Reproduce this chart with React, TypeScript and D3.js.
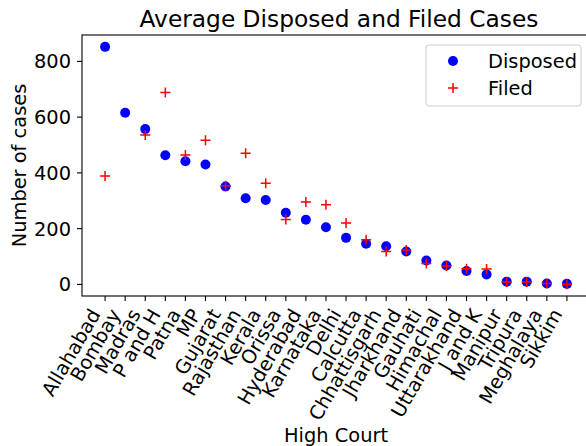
import * as d3 from "d3";

const courts = [
  "Allahabad", "Bombay", "Madras", "P and H", "Patna", "MP", "Gujarat", "Rajasthan",
  "Kerala", "Orissa", "Hyderabad", "Karnataka", "Delhi", "Calcutta", "Chhattisgarh",
  "Jharkhand", "Gauhati", "Himachal", "Uttarakhand", "J and K", "Manipur", "Tripura",
  "Meghalaya", "Sikkim",
];
const disposed = [
  852, 616, 557, 463, 442, 430, 351, 309, 303, 257, 232, 205, 167, 146, 137, 118,
  86, 68, 48, 36, 10, 10, 3, 2,
];
// Bombay's filed value is hidden under its dot in the reference, so null there
const filed: (number | null)[] = [
  389, null, 536, 688, 464, 517, 354, 470, 363, 233, 296, 286, 220, 160, 118, 123,
  75, 66, 56, 55, 9, 9, 3, 1,
];
const yTicks = [0, 200, 400, 600, 800];

const W = 586;
const H = 446;
const left = 82;
const right = 590;
const top = 35;
const bottom = 296;
const font = "DejaVu Sans";
const fs = 19.4;

export default function App() {
  const n = courts.length;
  const xPad = (n - 1) * 0.05;
  const x = d3.scaleLinear().domain([-xPad, n - 1 + xPad]).range([left, right]);

  const all = [...disposed, ...(filed.filter((v) => v != null) as number[])];
  const lo = d3.min(all)!;
  const hi = d3.max(all)!;
  const yPad = (hi - lo) * 0.05;
  const y = d3.scaleLinear().domain([lo - yPad, hi + yPad]).range([bottom, top]);

  const plus = 5;

  return (
    <svg
      width={W}
      height={H}
      style={{ position: "absolute", left: 0, top: 0, background: "white" }}
      fontFamily={font}
    >
      <defs>
        <clipPath id="plot">
          <rect x={left} y={top} width={right - left} height={bottom - top} />
        </clipPath>
      </defs>

      {/* title */}
      <text x={(left + right) / 2 + 3} y={27} textAnchor="middle" fontSize={23.3} fill="#000">
        Average Disposed and Filed Cases
      </text>

      {/* markers */}
      <g clipPath="url(#plot)">
        {disposed.map((v, i) => (
          <circle key={"d" + i} cx={x(i)} cy={y(v)} r={5} fill="#0000ff" />
        ))}
        {filed.map((v, i) =>
          v == null ? null : (
            <path
              key={"f" + i}
              d={`M${x(i) - plus},${y(v)}H${x(i) + plus}M${x(i)},${y(v) - plus}V${y(v) + plus}`}
              stroke="#ff0000"
              strokeWidth={1.5}
              fill="none"
            />
          )
        )}
      </g>

      {/* spines */}
      <rect
        x={left}
        y={top}
        width={right - left}
        height={bottom - top}
        fill="none"
        stroke="#000"
        strokeWidth={1.1}
      />

      {/* y axis */}
      {yTicks.map((t) => (
        <g key={t}>
          <line x1={left - 5} x2={left} y1={y(t)} y2={y(t)} stroke="#000" strokeWidth={1.1} />
          <text x={left - 11} y={y(t)} dy="0.36em" textAnchor="end" fontSize={fs} fill="#000">
            {t}
          </text>
        </g>
      ))}
      <text
        transform={`translate(25.5,${(top + bottom) / 2}) rotate(-90)`}
        textAnchor="middle"
        fontSize={fs}
        fill="#000"
      >
        Number of cases
      </text>

      {/* x axis */}
      {courts.map((c, i) => (
        <g key={c}>
          <line x1={x(i)} x2={x(i)} y1={bottom} y2={bottom + 5} stroke="#000" strokeWidth={1.1} />
          <text
            transform={`translate(${x(i) - 4},${bottom + 18}) rotate(-60)`}
            textAnchor="end"
            fontSize={fs}
            fill="#000"
          >
            {c}
          </text>
        </g>
      ))}
      <text x={(left + right) / 2} y={441.5} textAnchor="middle" fontSize={fs} fill="#000">
        High Court
      </text>

      {/* legend */}
      <g>
        <rect
          x={426}
          y={45}
          width={155}
          height={61}
          rx={3}
          fill="white"
          fillOpacity={0.8}
          stroke="#cccccc"
          strokeWidth={1}
        />
        <circle cx={453} cy={61} r={5} fill="#0000ff" />
        <text x={488} y={61} dy="0.36em" fontSize={fs} fill="#000">
          Disposed
        </text>
        <path
          d={`M${453 - plus},88H${453 + plus}M453,${88 - plus}V${88 + plus}`}
          stroke="#ff0000"
          strokeWidth={1.5}
        />
        <text x={488} y={88} dy="0.36em" fontSize={fs} fill="#000">
          Filed
        </text>
      </g>
    </svg>
  );
}
